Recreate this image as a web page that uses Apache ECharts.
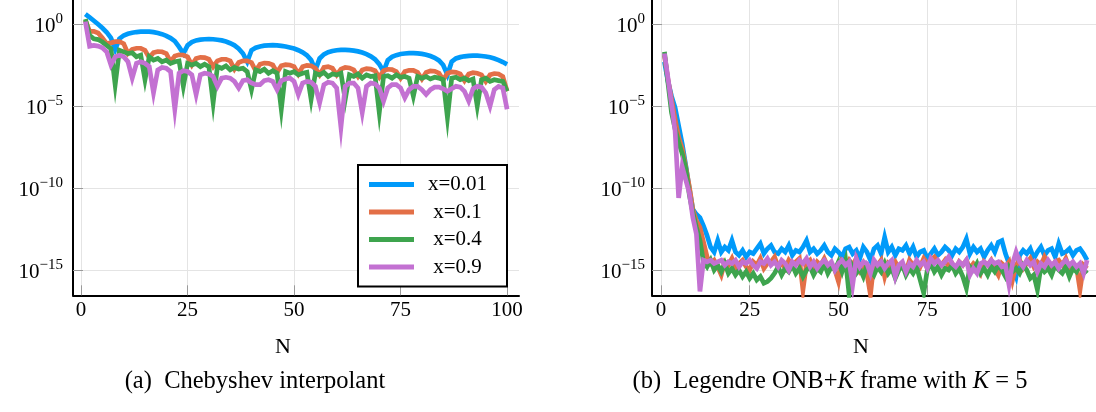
<!DOCTYPE html>
<html>
<head>
<meta charset="utf-8">
<script src="https://cdn.jsdelivr.net/npm/echarts@6/dist/echarts.min.js"></script>
<style>html,body{margin:0;padding:0;background:#fff;}#c{width:1096px;height:412px;}</style>
</head>
<body>
<div id="c"></div>
<script>
// ---- data: log10 of error, N = 1..len ----
const seriesNames = ['x=0.01', 'x=0.1', 'x=0.4', 'x=0.9'];
const xTicks = [0, 25, 50, 75, 100];
const yTicksExp = [-15, -10, -5, 0];

// (a) Chebyshev interpolant, N = 1..100
const chebBlue = [
 0.6, 0.4, 0.2, -0.02, -0.25, -0.5, -0.85, -1.55, -0.9, -0.7,
 -0.6, -0.53, -0.49, -0.47, -0.46, -0.47, -0.5, -0.55, -0.62, -0.72,
 -0.86, -1.05, -1.4, -1.8, -1.3, -1.1, -1.0, -0.95, -0.93, -0.92,
 -0.93, -0.96, -1.0, -1.07, -1.17, -1.3, -1.5, -1.8, -2.3, -1.6,
 -1.45, -1.37, -1.32, -1.3, -1.29, -1.3, -1.33, -1.37, -1.43, -1.5,
 -1.6, -1.73, -1.9, -2.2, -2.8, -2.1, -1.85, -1.72, -1.65, -1.6,
 -1.58, -1.58, -1.59, -1.62, -1.67, -1.74, -1.84, -1.97, -2.15, -2.45,
 -2.9, -2.2, -2.0, -1.9, -1.83, -1.8, -1.78, -1.78, -1.79, -1.82,
 -1.87, -1.95, -2.06, -2.22, -2.5, -3.1, -2.3, -2.1, -2.02, -1.97,
 -1.94, -1.93, -1.93, -1.95, -1.98, -2.03, -2.1, -2.2, -2.32, -2.46
];
const chebOrange = [
 0.24, -0.45, -0.45, -0.55, -0.85, -1.2, -1.15, -1.08, -1.08, -1.2,
 -1.8, -1.55, -1.48, -1.48, -1.6, -2.05, -1.75, -1.68, -1.69, -1.8,
 -2.3, -1.95, -1.88, -1.89, -2.0, -2.5, -2.1, -2.03, -2.05, -2.15,
 -2.6, -2.25, -2.15, -2.15, -2.25, -2.75, -2.35, -2.25, -2.25, -2.35,
 -2.85, -2.45, -2.38, -2.4, -2.5, -2.95, -2.55, -2.48, -2.5, -2.6,
 -3.05, -2.6, -2.52, -2.55, -2.7, -3.1, -2.65, -2.6, -2.7, -3.1,
 -2.75, -2.65, -2.68, -2.8, -3.2, -2.8, -2.72, -2.75, -2.85, -3.25,
 -2.85, -2.76, -2.78, -2.9, -3.3, -2.9, -2.82, -2.83, -2.95, -3.35,
 -2.95, -2.86, -2.88, -3.0, -3.4, -3.0, -2.92, -2.95, -3.05, -3.45,
 -3.05, -2.97, -3.0, -3.1, -3.5, -3.1, -3.02, -3.05, -3.2, -4.1
];
const chebGreen = [
 0.3, -0.7, -0.9, -0.95, -1.1, -1.3, -1.5, -3.7, -1.6, -1.7,
 -1.8, -1.75, -2.0, -1.9, -3.4, -2.0, -2.2, -2.1, -2.3, -2.2,
 -2.4, -2.3, -2.25, -3.8, -2.4, -2.5, -2.4, -2.6, -2.45, -2.6,
 -4.8, -2.6, -2.7, -2.55, -2.8, -2.65, -2.75, -2.7, -2.9, -4.0,
 -2.8, -2.9, -2.75, -3.0, -2.85, -3.0, -5.2, -2.9, -3.0, -2.9,
 -3.1, -3.0, -2.95, -4.6, -3.0, -3.1, -2.95, -3.2, -3.05, -3.1,
 -3.0, -4.6, -3.1, -3.2, -3.05, -3.3, -3.1, -3.2, -3.15, -5.4,
 -3.2, -3.15, -3.3, -3.1, -3.25, -3.2, -3.3, -4.4, -3.2, -3.3,
 -3.2, -3.35, -3.25, -3.3, -3.4, -5.7, -3.3, -3.25, -3.4, -3.3,
 -3.45, -3.35, -5.0, -3.4, -3.3, -3.5, -3.4, -3.45, -3.5, -4.1
];
const chebPurple = [
 0.14, -1.35, -1.3, -1.35, -1.45, -1.7, -2.5, -2.0, -1.9, -2.0,
 -2.3, -3.3, -2.4, -2.3, -2.4, -2.6, -4.2, -2.8, -2.65, -2.7,
 -2.9, -5.2, -3.0, -2.85, -2.9, -3.1, -4.3, -3.1, -3.0, -3.05,
 -3.2, -3.8, -3.3, -3.25, -3.3, -3.5, -3.9, -3.45, -3.4, -3.6,
 -3.7, -3.7, -3.45, -3.4, -3.5, -4.0, -3.45, -3.35, -3.3, -3.5,
 -4.3, -3.6, -3.5, -3.55, -3.8, -4.8, -3.7, -3.55, -3.6, -3.9,
 -6.3, -3.8, -3.6, -3.6, -3.9, -5.4, -3.8, -3.6, -3.65, -3.9,
 -4.7, -3.9, -3.7, -3.7, -3.9, -4.5, -4.0, -3.8, -3.8, -4.0,
 -4.3, -4.0, -3.85, -3.85, -3.95, -4.1, -3.95, -3.8, -3.85, -4.1,
 -4.7, -3.95, -3.8, -3.85, -4.2, -5.0, -4.0, -3.8, -3.9, -5.2
];

// (b) Legendre ONB+K frame, N = 1..120
const frameBlue = [
 -2.3, -3.5, -4.4, -5.1, -6.2, -7.3, -8.6, -10.0, -11.3, -11.6,
 -11.8, -12.3, -12.9, -13.6, -13.9, -13.2, -13.9, -13.6, -13.8, -13.2,
 -13.9, -14.1, -13.8, -14.2, -13.9, -14.0, -13.7, -13.4, -14.0, -13.7,
 -13.5, -13.9, -14.0, -13.7, -13.9, -13.5, -14.1, -13.8, -13.9, -13.6,
 -13.2, -13.9, -13.7, -14.0, -13.8, -13.5, -13.9, -14.1, -13.7, -13.9,
 -14.2, -13.7, -13.6, -14.0, -13.8, -14.3, -13.6, -13.9, -14.4, -13.7,
 -13.5, -14.0, -13.0, -13.9, -13.6, -14.1, -13.7, -13.8, -13.5, -14.0,
 -13.6, -14.2, -13.9, -13.8, -14.3, -14.0, -13.7, -14.1, -13.9, -13.6,
 -13.8, -14.1, -13.7, -13.9, -13.6, -13.1, -14.0, -13.6, -13.9, -13.7,
 -14.2, -13.8, -13.5, -13.9, -13.3, -13.2, -14.0, -14.6, -14.8, -15.4,
 -14.1, -13.8, -14.0, -13.7, -14.3, -13.9, -13.6, -14.1, -13.8, -13.7,
 -14.2, -13.4, -14.0, -13.9, -13.7, -14.1, -13.8, -13.7, -14.0, -14.4
];
const frameOrange = [
 -1.9, -3.4, -4.6, -5.8, -6.9, -7.6, -8.7, -9.9, -11.3, -12.0,
 -12.4, -13.3, -14.2, -14.6, -14.4, -14.8, -15.3, -14.5, -14.7, -14.3,
 -14.9, -14.6, -14.4, -14.8, -15.0, -14.5, -14.7, -14.3, -14.9, -14.6,
 -14.5, -14.2, -14.8, -14.6, -14.9, -14.4, -14.7, -14.5, -14.3, -16.2,
 -14.6, -14.4, -14.9, -14.5, -14.7, -14.3, -14.8, -14.6, -15.0, -15.7,
 -14.5, -14.8, -14.4, -14.7, -14.3, -15.0, -14.6, -15.2, -16.5, -14.5,
 -14.7, -14.4, -15.4, -14.6, -14.8, -14.5, -14.9, -14.6, -15.1, -14.4,
 -14.7, -14.5, -14.8, -14.3, -14.6, -14.4, -14.2, -14.5, -14.7, -14.4,
 -14.8, -14.6, -15.0, -14.5, -14.7, -14.4, -14.9, -14.6, -14.8, -15.2,
 -14.5, -14.7, -14.4, -14.9, -15.3, -14.6, -14.8, -14.5, -15.6, -14.7,
 -14.4, -14.9, -14.6, -14.3, -14.8, -14.5, -14.7, -14.2, -14.6, -14.9,
 -14.5, -14.4, -14.7, -14.3, -14.9, -14.6, -14.8, -16.2, -14.7, -14.9
];
const frameGreen = [
 -1.7, -3.6, -5.4, -6.4, -7.2, -7.9, -8.8, -10.4, -11.5, -12.4,
 -13.2, -14.5, -14.8, -14.4, -15.0, -14.7, -15.1, -14.6, -15.2, -14.9,
 -15.3, -15.0, -15.4, -15.1, -15.5, -15.2, -15.6, -15.4, -15.8, -15.7,
 -15.5, -15.2, -14.8, -15.3, -14.9, -15.1, -14.7, -15.2, -14.9, -15.4,
 -15.0, -14.8, -15.3, -14.9, -15.1, -14.6, -15.2, -14.8, -15.0, -14.5,
 -15.1, -14.4, -16.5, -14.8, -15.2, -14.9, -15.4, -14.7, -15.0, -15.3,
 -14.8, -15.1, -14.6, -15.2, -14.9, -15.5, -15.0, -14.7, -15.3, -14.9,
 -15.2, -14.8, -15.6, -16.4, -15.0, -14.6, -15.1, -14.8, -15.3, -14.9,
 -15.0, -14.7, -15.2, -14.9, -15.4, -16.1, -14.8, -15.0, -14.6, -15.2,
 -14.9, -15.3, -14.8, -15.1, -14.7, -15.0, -15.4, -14.8, -15.1, -14.9,
 -15.2, -14.7, -15.0, -15.5, -15.3, -16.2, -14.8, -15.1, -14.9, -15.3,
 -14.7, -15.0, -15.2, -14.8, -15.4, -14.9, -15.1, -14.7, -15.2, -15.0
];
const framePurple = [
 -1.8, -3.3, -4.9, -6.5, -10.6, -8.7, -9.5, -10.3, -11.8, -12.8,
 -16.3, -14.4, -14.5, -14.4, -14.6, -14.5, -14.4, -14.7, -14.5, -14.6,
 -14.4, -14.8, -14.5, -14.6, -14.4, -14.7, -14.9, -14.5, -14.6, -14.3,
 -14.7, -14.5, -14.8, -14.4, -14.6, -15.0, -14.5, -14.7, -14.4, -14.6,
 -14.3, -14.8, -14.5, -14.9, -14.6, -14.4, -14.7, -14.5, -15.0, -14.6,
 -14.4, -14.7, -14.5, -15.9, -14.3, -14.8, -14.5, -14.6, -15.2, -14.4,
 -14.7, -14.5, -14.9, -14.6, -14.4, -15.4, -14.7, -14.5, -15.1, -14.6,
 -14.8, -14.4, -14.7, -14.5, -14.9, -14.3, -14.6, -14.4, -14.7, -14.5,
 -14.2, -14.6, -14.8, -14.5, -14.7, -14.4, -15.3, -14.9, -15.2, -14.6,
 -14.5, -14.7, -14.4, -14.6, -14.5, -14.8, -14.7, -15.9, -14.6, -13.9,
 -14.5, -14.8, -14.4, -14.7, -14.5, -15.1, -14.6, -14.8, -14.4, -14.7,
 -14.5, -14.9, -14.6, -14.4, -14.7, -14.5, -14.8, -14.6, -15.2, -14.4
];

// ---- styling ----
const COLORS = ['#009AFA', '#E36F47', '#3EA44E', '#C371D2'];
const FONT = 'Liberation Serif';
const TICK_FS = 21;

const pts = arr => arr.map((e, i) => [i + 1, Math.pow(10, e)]);

function yLabel(v) {
  const e = Math.round(Math.log10(v));
  const s = e < 0 ? '\u2212' + (-e) : String(e);
  return '{b|10}{s|' + s + '}';
}
const yRich = {
  b: { fontFamily: FONT, fontSize: TICK_FS, color: '#000', lineHeight: 20, padding: [4, 0, 0, 0] },
  s: { fontFamily: FONT, fontSize: 15, color: '#000', lineHeight: 13, padding: [0, 0, 9, 0] }
};

function makeX(idx, min, max) {
  return {
    type: 'value', gridIndex: idx, min: min, max: max,
    axisLine: { show: true, onZero: false, lineStyle: { color: '#000', width: 2 } },
    axisTick: { show: true, inside: true, length: 10, customValues: xTicks, lineStyle: { color: '#9a9a9a', width: 1 } },
    axisLabel: { customValues: xTicks, margin: 5, color: '#000', fontFamily: FONT, fontSize: TICK_FS },
    splitLine: { show: true, lineStyle: { color: '#e4e4e4', width: 1 } }
  };
}
const yVals = yTicksExp.map(e => Math.pow(10, e));
function makeY(idx, margin) {
  return {
    type: 'log', logBase: 10, gridIndex: idx,
    min: Math.pow(10, -16.54), max: Math.pow(10, 1.463),
    axisLine: { show: true, onZero: false, lineStyle: { color: '#000', width: 2 } },
    axisTick: { show: true, inside: true, length: 10, customValues: yVals, lineStyle: { color: '#9a9a9a', width: 1 } },
    axisLabel: { customValues: yVals, margin: margin, formatter: yLabel, rich: yRich },
    splitLine: { show: true, lineStyle: { color: '#e4e4e4', width: 1 } },
    minorTick: { show: false }, minorSplitLine: { show: false }
  };
}

function line(name, data, xi, ci) {
  return {
    type: 'line', name: name, xAxisIndex: xi, yAxisIndex: xi,
    data: pts(data), symbol: 'none', showSymbol: false,
    color: COLORS[ci], itemStyle: { color: COLORS[ci] },
    lineStyle: { color: COLORS[ci], width: 4.7, join: 'miter', miterLimit: 10, cap: 'butt' },
    emphasis: { disabled: true }, animation: false, clip: true
  };
}

const chart = echarts.init(document.getElementById('c'), null, { renderer: 'canvas' });
chart.setOption({
  animation: false,
  backgroundColor: '#fff',
  grid: [
    { left: 73, top: 0, width: 446, height: 295.3, containLabel: false, outerBoundsMode: 'none' },
    { left: 652, top: 0, width: 444, height: 295.3, containLabel: false, outerBoundsMode: 'none' }
  ],
  xAxis: [makeX(0, -1.9, 102.8), makeX(1, -2.5, 122.5)],
  yAxis: [makeY(0, 10), makeY(1, 7)],
  legend: {
    data: seriesNames,
    orient: 'vertical', left: 358, top: 165,
    backgroundColor: '#fff', borderColor: '#000', borderWidth: 2, borderRadius: 0,
    padding: [9, 11, 9, 11], itemGap: 6.5, itemWidth: 45, itemHeight: 5, icon: 'rect',
    selectedMode: false,
    formatter: n => '{c|' + n + '}',
    textStyle: { color: '#000', fontFamily: FONT, fontSize: 21,
      rich: { c: { width: 77, align: 'center', fontFamily: FONT, fontSize: 21, lineHeight: 20, color: '#000' } } }
  },
  series: [
    line(seriesNames[0], chebBlue, 0, 0),
    line(seriesNames[1], chebOrange, 0, 1),
    line(seriesNames[2], chebGreen, 0, 2),
    line(seriesNames[3], chebPurple, 0, 3),
    line(seriesNames[0], frameBlue, 1, 0),
    line(seriesNames[1], frameOrange, 1, 1),
    line(seriesNames[2], frameGreen, 1, 2),
    line(seriesNames[3], framePurple, 1, 3)
  ],
  graphic: [
    { type: 'text', x: 283, y: 347, silent: true,
      style: { text: 'N', fill: '#000', font: '22px "Liberation Serif"', align: 'center', verticalAlign: 'middle', textAlign: 'center', textVerticalAlign: 'middle' } },
    { type: 'text', x: 861, y: 347, silent: true,
      style: { text: 'N', fill: '#000', font: '22px "Liberation Serif"', align: 'center', verticalAlign: 'middle', textAlign: 'center', textVerticalAlign: 'middle' } },
    { type: 'text', x: 255, y: 382, silent: true,
      style: { text: '(a)  Chebyshev interpolant', fill: '#000', font: '24.5px "Liberation Serif"', align: 'center', verticalAlign: 'middle', textAlign: 'center', textVerticalAlign: 'middle' } },
    { type: 'text', x: 830, y: 382, silent: true,
      style: { text: '(b)  Legendre ONB+{i|K} frame with {i|K} = 5', fill: '#000', font: '24.5px "Liberation Serif"',
        rich: { i: { fontStyle: 'italic', fontFamily: FONT, fontSize: 24.5, fill: '#000', color: '#000' } },
        align: 'center', verticalAlign: 'middle', textAlign: 'center', textVerticalAlign: 'middle' } }
  ]
});
</script>
</body>
</html>
